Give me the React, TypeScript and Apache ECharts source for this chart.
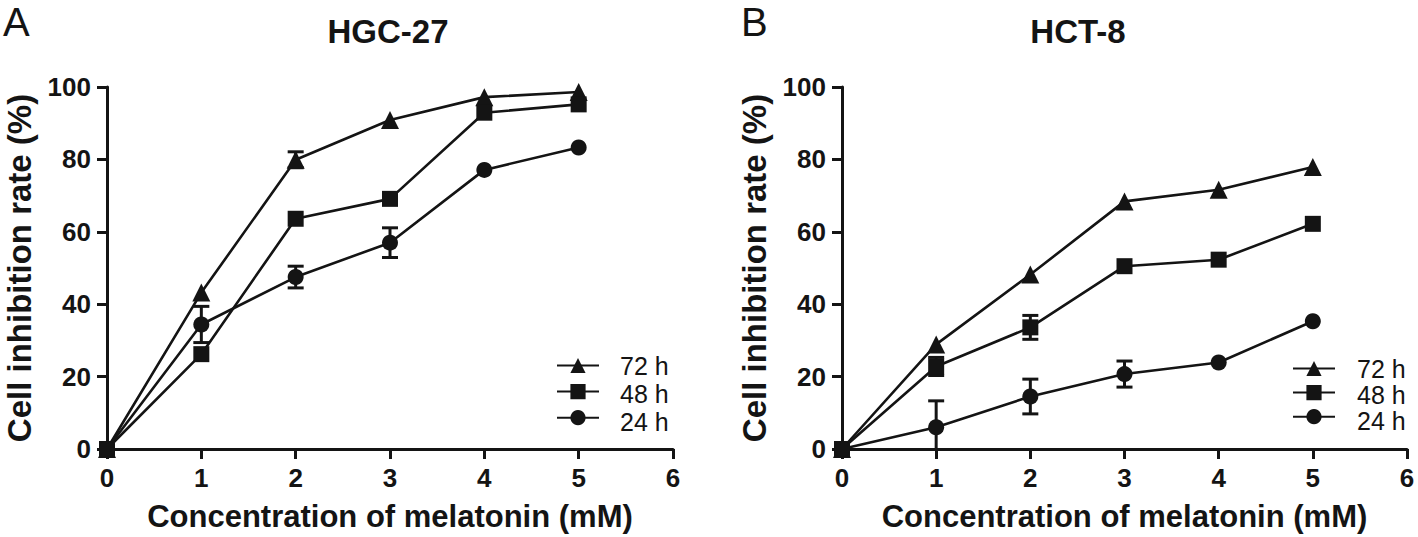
import React, { useEffect, useRef } from "react";
import * as echarts from "echarts";

const FONT = '"Liberation Sans", Arial, Helvetica, sans-serif';
const INK = "#141414";

const concentrations = [0, 1, 2, 3, 4, 5];
const seriesNames = ["72 h", "48 h", "24 h"];
const seriesSymbols = ["triangle", "rect", "circle"];
const xTicks = [0, 1, 2, 3, 4, 5, 6];
const yTicks = [0, 20, 40, 60, 80, 100];

// HGC-27 (panel A)
const hgc72 = [0, 43.2, 79.9, 90.9, 97.2, 98.6];
const hgc48 = [0, 26.2, 63.6, 69.1, 92.9, 95.2];
const hgc24 = [0, 34.4, 47.5, 57.0, 77.1, 83.3];
const hgc72Err = [0, 0, 2.2, 0, 0, 0];
const hgc48Err = [0, 0, 0, 0, 0, 0];
const hgc24Err = [0, 5.0, 3.0, 4.1, 0, 0];

// HCT-8 (panel B)
const hct72 = [0, 28.9, 48.2, 68.4, 71.6, 77.9];
const hct48 = [0, 22.8, 33.6, 50.5, 52.3, 62.2];
const hct24 = [0, 6.0, 14.5, 20.7, 23.9, 35.3];
const hct72Err = [0, 0, 0, 0, 0, 0];
const hct48Err = [0, 2.5, 3.3, 0, 0, 0];
const hct24Err = [0, 7.3, 4.8, 3.6, 0, 0];

const panels = [
  { title: "HGC-27", letter: "A", values: [hgc72, hgc48, hgc24], errors: [hgc72Err, hgc48Err, hgc24Err] },
  { title: "HCT-8", letter: "B", values: [hct72, hct48, hct24], errors: [hct72Err, hct48Err, hct24Err] },
];

const gridBoxes = [
  { left: 107, top: 87, width: 566, height: 363 },
  { left: 842, top: 87, width: 565, height: 363 },
];
const titlePos = [
  { x: 388, y: 31 },
  { x: 1078, y: 31 },
];
const letterPos = [
  { x: 3, y: 22 },
  { x: 741, y: 22 },
];
// legend icon column (left, top of first icon, row step) and label column x
const legendPos = [
  { left: 556, top: 356, step: 28, textX: 620 },
  { left: 1292, top: 359, step: 26, textX: 1357 },
];
const LEGEND_ICON_H = 19;

function buildOption() {
  const grid: any[] = [];
  const xAxis: any[] = [];
  const yAxis: any[] = [];
  const series: any[] = [];
  const graphic: any[] = [];
  const legend: any[] = [];

  const axisCommon = {
    axisLine: { show: true, onZero: false, lineStyle: { color: INK, width: 3 } },
    axisTick: { show: true, length: 10, lineStyle: { color: INK, width: 3 } },
    splitLine: { show: false },
    nameLocation: "middle",
  };

  panels.forEach((p, pi) => {
    grid.push({ ...gridBoxes[pi], containLabel: false });
    xAxis.push({
      ...axisCommon,
      type: "value",
      gridIndex: pi,
      min: xTicks[0],
      max: xTicks[xTicks.length - 1],
      interval: 1,
      name: "Concentration of melatonin (mM)",
      nameGap: 52,
      nameTextStyle: { color: INK, fontFamily: FONT, fontWeight: "bold", fontSize: 31 },
      axisLabel: { color: INK, fontFamily: FONT, fontWeight: "bold", fontSize: 26, margin: 16 },
    });
    yAxis.push({
      ...axisCommon,
      type: "value",
      gridIndex: pi,
      min: yTicks[0],
      max: yTicks[yTicks.length - 1],
      interval: 20,
      name: "Cell inhibition rate (%)",
      nameGap: 71,
      nameRotate: 90,
      nameTextStyle: { color: INK, fontFamily: FONT, fontWeight: "bold", fontSize: 33 },
      axisLabel: { color: INK, fontFamily: FONT, fontWeight: "bold", fontSize: 26, margin: 16 },
    });

    seriesNames.forEach((name, si) => {
      const vals = p.values[si];
      const errs = p.errors[si];
      const errData = concentrations
        .map((x, i) => (errs[i] > 0 ? [x, vals[i] - errs[i], vals[i] + errs[i]] : null))
        .filter((d) => d !== null);
      if (errData.length) {
        series.push({
          type: "custom",
          name: `err-${pi}-${si}`,
          xAxisIndex: pi,
          yAxisIndex: pi,
          z: 2,
          clip: true,
          silent: true,
          data: errData,
          renderItem: (params: any, api: any) => {
            const x = api.value(0);
            const lo = api.coord([x, api.value(1)]);
            const hi = api.coord([x, api.value(2)]);
            const hw = 8;
            const style = { stroke: INK, lineWidth: 3 };
            return {
              type: "group",
              children: [
                { type: "line", shape: { x1: lo[0], y1: lo[1], x2: hi[0], y2: hi[1] }, style },
                { type: "line", shape: { x1: hi[0] - hw, y1: hi[1], x2: hi[0] + hw, y2: hi[1] }, style },
                { type: "line", shape: { x1: lo[0] - hw, y1: lo[1], x2: lo[0] + hw, y2: lo[1] }, style },
              ],
            };
          },
        });
      }
      series.push({
        type: "line",
        name,
        xAxisIndex: pi,
        yAxisIndex: pi,
        z: 3,
        data: concentrations.map((x, i) => [x, vals[i]]),
        symbol: seriesSymbols[si],
        symbolSize: si === 0 ? 18 : 16,
        showSymbol: true,
        lineStyle: { color: INK, width: 2.6 },
        itemStyle: { color: INK },
        emphasis: { disabled: true },
      });

      // legend label text
      graphic.push({
        type: "text",
        x: legendPos[pi].textX,
        y: legendPos[pi].top + LEGEND_ICON_H / 2 + si * legendPos[pi].step,
        style: {
          text: name,
          fill: INK,
          font: `25px ${FONT}`,
          align: "left",
          verticalAlign: "middle",
        },
      });
    });

    graphic.push({
      type: "text",
      x: titlePos[pi].x,
      y: titlePos[pi].y,
      style: {
        text: p.title,
        fill: INK,
        font: `bold 33px ${FONT}`,
        align: "center",
        verticalAlign: "middle",
      },
    });
    graphic.push({
      type: "text",
      x: letterPos[pi].x,
      y: letterPos[pi].y,
      style: {
        text: p.letter,
        fill: INK,
        font: `40px ${FONT}`,
        align: "left",
        verticalAlign: "middle",
      },
    });

    legend.push({
      orient: "vertical",
      left: legendPos[pi].left,
      top: legendPos[pi].top,
      padding: 0,
      itemGap: legendPos[pi].step - LEGEND_ICON_H,
      itemWidth: 42,
      itemHeight: LEGEND_ICON_H,
      selectedMode: false,
      data: seriesNames,
      formatter: () => "",
      textStyle: { fontSize: 1 },
    });
  });

  return {
    animation: false,
    backgroundColor: "#ffffff",
    grid,
    xAxis,
    yAxis,
    series,
    legend,
    graphic,
  };
}

export default function App() {
  const ref = useRef<HTMLDivElement>(null);
  useEffect(() => {
    const chart = echarts.init(ref.current!, null, { renderer: "svg" });
    chart.setOption(buildOption() as any);
    return () => chart.dispose();
  }, []);
  return (
    <div
      ref={ref}
      style={{ position: "fixed", left: 0, top: 0, width: 1418, height: 537, background: "#fff" }}
    />
  );
}
